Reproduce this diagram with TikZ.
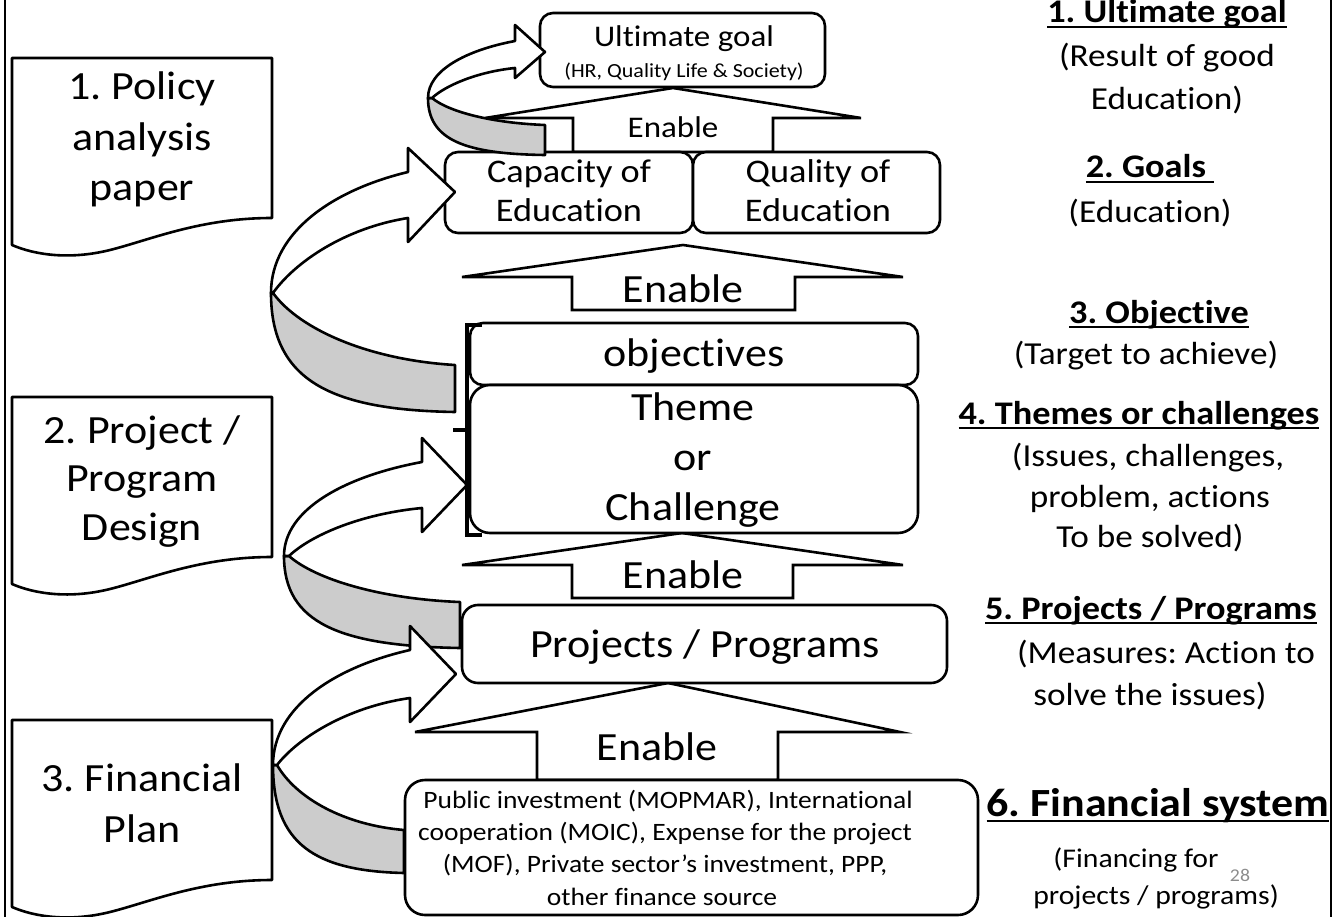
\documentclass[tikz,border=0pt]{standalone}
\usepackage{fontspec}
\setmainfont{Carlito}[FakeStretch=1.1, Ligatures={NoCommon,NoContextual}, RawFeature={-calt;-liga;-clig}]
\usetikzlibrary{calc}
\definecolor{bandgray}{HTML}{CCCCCC}
\definecolor{pagenum}{HTML}{8C8C8C}
\newcommand\fsz[2]{\fontsize{#1}{#2}\selectfont}
\newcommand\ulx[1]{\setbox0\hbox{#1}\rlap{\rule[-0.16em]{\wd0}{0.07em}}\box0}
\frenchspacing
\tikzset{
  ln/.style={line width=2.6pt, line join=round},
  boxst/.style={ln, draw, fill=white, rounded corners=13pt, inner sep=0pt},
  enab/.style={ln, draw, fill=white, line join=miter},
  crvw/.style={ln, draw, fill=white},
  crvg/.style={ln, draw, fill=bandgray},
  docst/.style={ln, draw, fill=white},
  tx/.style={inner sep=0pt, anchor=base, execute at begin node=\frenchspacing},
  big/.style={tx, font=\fsz{40}{48}},
  mid/.style={tx, font=\fsz{32}{40}},
  hd/.style={tx, font=\fsz{33}{40}\bfseries},
  docpic/.pic={
    \draw[docst] (12,0) -- (272,0) -- (272,160) .. controls (200,160) and (150,182) .. (110,192) .. controls (70,202) and (35,197) .. (12,187) -- cycle;
  }
}
\begin{document}
\begin{tikzpicture}[x=1pt,y=-1pt]
\useasboundingbox (0,0) rectangle (1335,917);

% page frame lines
\coordinate (fl1) at (5,0); \coordinate (fl2) at (5,917);
\coordinate (fr1) at (1331,0); \coordinate (fr2) at (1331,917);
\draw[line width=2pt] (fl1) -- (fl2);
\draw[line width=2pt] (fr1) -- (fr2);

% left documents
\pic at (0,58) {docpic};
\pic at (0,397) {docpic};
\pic at (0,720) {docpic};
\node[big] (d1a) at (142,100) {1. Policy};
\node[big] (d1b) at (142,151) {analysis};
\node[big] (d1c) at (142,201) {paper};
\node[big] (d2a) at (142,443) {2. Project /};
\node[big] (d2b) at (142,491) {Program};
\node[big] (d2c) at (142,540) {Design};
\node[big] (d3a) at (142,791) {3. Financial};
\node[big] (d3b) at (142,842) {Plan};

% Enable block arrows
\draw[enab] (573,152) -- (573,118) -- (485,118) -- (673,88) -- (861,118) -- (773,118) -- (773,152) -- cycle;
\draw[enab] (572,310) -- (572,277) -- (462,277) -- (683,245) -- (903,277) -- (795,277) -- (795,310) -- cycle;
\draw[enab] (572,598) -- (572,565) -- (462,565) -- (682,533) -- (903,565) -- (793,565) -- (793,598) -- cycle;
\draw[enab] (537,780) -- (537,732) -- (415,732) -- (668,683) -- (900,732) -- (778,732) -- (778,780) -- cycle;
\node[tx, font=\fsz{30}{36}] (en1) at (673,138) {Enable};
\node[big] (en2) at (683,302) {Enable};
\node[big] (en3) at (683,588) {Enable};
\node[big] (en4) at (657,760) {Enable};

% boxes
\node[boxst, minimum width=285, minimum height=74] (ug) at (682.5,50) {};
\node[boxst, minimum width=248, minimum height=81] (cap) at (569,192.5) {};
\node[boxst, minimum width=247, minimum height=81] (qual) at (816.5,192.5) {};
\node[boxst, minimum width=448, minimum height=62] (obj) at (694,354) {};
\node[boxst, rounded corners=20pt, minimum width=448, minimum height=148] (thm) at (694,459) {};
\node[boxst, rounded corners=16pt, minimum width=485, minimum height=78] (proj) at (704.5,644) {};
\node[boxst, rounded corners=20pt, minimum width=573, minimum height=135] (fin) at (691.5,847.5) {};

\node[tx, font=\fsz{30}{36}] (ugt) at (684,47) {Ultimate goal};
\node[tx, font=\fsz{20}{24}] (ugs) at (684,78) {(HR, Quality Life \& Society)};
\node[tx, font=\fsz{33}{40}] (capa) at (569,183) {Capacity of};
\node[tx, font=\fsz{33}{40}] (capb) at (569,222) {Education};
\node[tx, font=\fsz{33}{40}] (quaa) at (818,183) {Quality of};
\node[tx, font=\fsz{33}{40}] (quab) at (818,222) {Education};
\node[big] (objt) at (694,366) {objectives};
\node[big] (th1) at (693,420) {Theme};
\node[big] (th2) at (693,470) {or};
\node[big] (th3) at (693,520) {Challenge};
\node[big] (projt) at (705,657) {Projects / Programs};
\node[tx, font=\fsz{25}{30}] (f1) at (668,808) {Public investment (MOPMAR), International};
\node[tx, font=\fsz{25}{30}] (f2) at (665,840) {cooperation (MOIC), Expense for the project};
\node[tx, font=\fsz{25}{30}] (f3) at (665,872) {(MOF), Private sector’s investment, PPP,};
\node[tx, font=\fsz{25}{30}] (f4) at (662,905) {other finance source};

% bracket
\draw[line width=4pt, line cap=butt] (482,325) -- (467,325) -- (467,535) -- (482,535);
\draw[line width=4pt] (453,430) -- (467,430);

% curved arrows
% A
\draw[crvg] (428,98) .. controls (428,140) and (465,154) .. (545,155) -- (545,125) .. controls (492,123) and (449,112) .. (432,98) -- cycle;
\draw[crvw] (428,98) .. controls (428,70) and (467,50) .. (515,41) -- (515,25) -- (545,52) -- (515,78) -- (515,68) .. controls (476,72) and (445,86) .. (432,98) -- cycle;
% B
\draw[crvg] (271,293) .. controls (271,380) and (330,410) .. (455,412) -- (455,365) .. controls (370,360) and (300,330) .. (273,293) -- cycle;
\draw[crvw] (271,293) .. controls (271,232) and (333,190) .. (408,172) -- (408,148) -- (455,192) -- (408,242) -- (408,218) .. controls (345,228) and (295,262) .. (273,293) -- cycle;
% C
\draw[crvg] (284,556) .. controls (284,623) and (340,646) .. (460,648) -- (460,602) .. controls (380,599) and (315,579) .. (289,556) -- cycle;
\draw[crvw] (284,556) .. controls (284,509) and (346,476) .. (422,462) -- (422,438) -- (467,485) -- (422,532) -- (422,508) .. controls (359,514) and (310,536) .. (289,556) -- cycle;
% D
\draw[crvg] (273,765) .. controls (273,844) and (315,871) .. (404,873) -- (404,830) .. controls (344,825) and (296,798) .. (277,765) -- cycle;
\draw[crvw] (273,765) .. controls (273,707) and (335,667) .. (410,650) -- (410,626) -- (456,674) -- (410,722) -- (410,698) .. controls (347,707) and (298,738) .. (277,765) -- cycle;

% right column
\node[hd] (r1a) at (1167,23) {\ulx{1. Ultimate goal}};
\node[mid] (r1b) at (1167,67) {(Result of good};
\node[mid] (r1c) at (1167,110) {Education)};
\node[hd] (r2a) at (1150,178) {\ulx{2. Goals\ }};
\node[mid] (r2b) at (1150,223) {(Education)};
\node[hd] (r3a) at (1159,323) {\ulx{3. Objective}};
\node[mid] (r3b) at (1146,364) {(Target to achieve)};
\node[hd] (r4a) at (1139,424) {\ulx{4. Themes or challenges}};
\node[mid] (r4b) at (1148,466) {(Issues, challenges,};
\node[mid] (r4c) at (1150,507) {problem, actions};
\node[mid] (r4d) at (1150,547) {To be solved)};
\node[hd] (r5a) at (1151,619) {\ulx{5. Projects / Programs}};
\node[mid] (r5b) at (1166,663) {(Measures: Action to};
\node[mid] (r5c) at (1150,705) {solve the issues)};
\node[tx, font=\fsz{40}{48}\bfseries] (r6a) at (1158,816) {\ulx{6. Financial system}};
\node[tx, font=\fsz{27}{32}] (r6b) at (1136,867) {(Financing for};
\node[tx, font=\fsz{27}{32}] (r6c) at (1156,904) {projects / programs)};
\node[tx, font=\fsz{18}{22}, text=pagenum] (pg) at (1240,881) {28};
\end{tikzpicture}
\end{document}
